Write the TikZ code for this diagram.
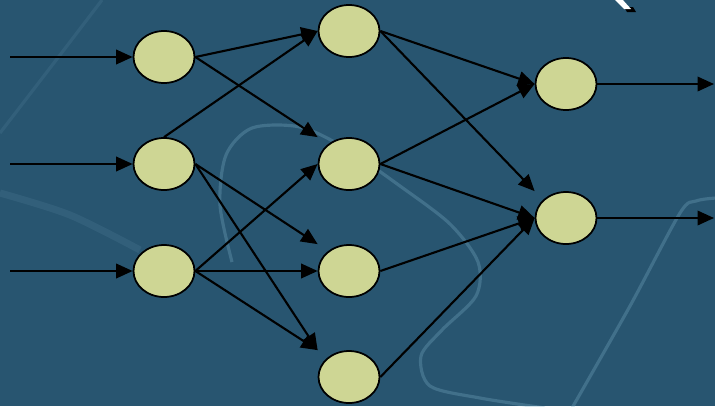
\documentclass[tikz,border=0pt]{standalone}
\usepackage{tikz}
\usetikzlibrary{shapes.geometric, arrows.meta}

\definecolor{slide}{RGB}{40,85,112}
\definecolor{neuronfill}{RGB}{206,214,148}
\definecolor{swirl}{RGB}{125,175,200}

\begin{document}
\begin{tikzpicture}[x=0.02cm,y=-0.02cm]

   %Styles of neurons and arrows
   \tikzstyle{neuron} = [ellipse, minimum width=1.22cm, minimum height=1.04cm, inner sep=0pt, draw=black, line width=1pt, fill=neuronfill]
   \tikzstyle{arrow} = [line width=1.2pt,-{Triangle[length=0.33cm,width=0.29cm]}]
   \tikzstyle{glow} = [swirl, opacity=0.3, line width=1.8pt]

   %Background of the slide
   \fill[slide] (0,0) rectangle (715,406);
   \useasboundingbox (0,0) rectangle (715,406);
   \draw[glow, opacity=0.12] plot[smooth] coordinates {(102,0) (60,55) (0,133)};
   \draw[glow, opacity=0.12, line width=4pt] plot[smooth] coordinates {(0,193) (70,215) (140,250)};
   \draw[glow] plot[smooth] coordinates {(232,262) (220,205) (226,155) (252,128) (300,127) (345,148) (400,186) (450,224) (478,262) (476,296) (442,330) (421,356) (430,386) (480,398) (545,408)};
   \draw[glow] plot[smooth] coordinates {(572,408) (630,306) (680,213) (696,201) (716,198)};
   \fill[black] (624,7) -- (633,7) -- (636,12) -- (627,12) -- cycle;
   \fill[white] (614,-1) -- (622,-1) -- (631,9) -- (624,9) -- cycle;

   %Neurons
   \node[neuron] (in1) at (164,57) {};
   \node[neuron] (in2) at (164,164) {};
   \node[neuron] (in3) at (164,271) {};
   \node[neuron] (hid1) at (349,31) {};
   \node[neuron] (hid2) at (349,164) {};
   \node[neuron] (hid3) at (349,271) {};
   \node[neuron] (hid4) at (349,377) {};
   \node[neuron] (out1) at (566,84) {};
   \node[neuron] (out2) at (566,218) {};

   %Free ends of the inputs and outputs
   \coordinate (x1) at (10,57);
   \coordinate (x2) at (10,164);
   \coordinate (x3) at (10,271);
   \coordinate (y1) at (714,84);
   \coordinate (y2) at (714,218);

   %Arrows
   \draw[arrow] (x1) -- (in1.west);
   \draw[arrow] (x2) -- (in2.west);
   \draw[arrow] (x3) -- (in3.west);

   \draw[arrow] (in1.east) -- (hid1.west);
   \draw[arrow] (in1.east) -- (hid2.west |- hid2.north);
   \draw[arrow] (in2.north) -- (hid1.west);
   \draw[arrow] (in2.east) -- (hid3.west |- hid3.north);
   \draw[arrow] (in2.east) -- (hid4.west |- hid4.north);
   \draw[arrow] (in3.east) -- (hid2.west);
   \draw[arrow] (in3.east) -- (hid3.west);
   \draw[arrow] (in3.east) -- (hid4.west |- hid4.north);

   \draw[arrow] (hid1.east) -- (out1.west);
   \draw[arrow] (hid1.east) -- (out2.west |- out2.north);
   \draw[arrow] (hid2.east) -- (out1.west);
   \draw[arrow] (hid2.east) -- (out2.west);
   \draw[arrow] (hid3.east) -- (out2.west);
   \draw[arrow] (hid4.east) -- (out2.west);

   \draw[arrow] (out1.east) -- (y1);
   \draw[arrow] (out2.east) -- (y2);

\end{tikzpicture}
\end{document}
